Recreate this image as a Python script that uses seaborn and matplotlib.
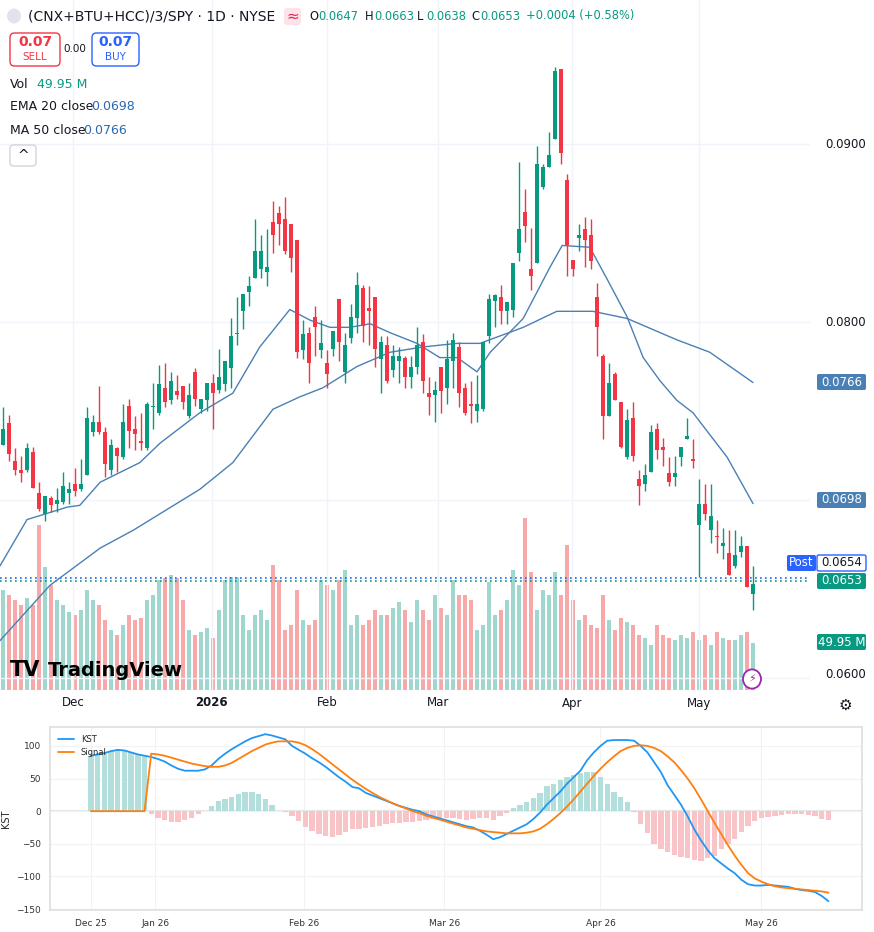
import numpy as np
import pandas as pd
import seaborn as sns
import matplotlib.pyplot as plt
from matplotlib.patches import FancyBboxPatch, Circle

# ---- candle data (daily) ----
opens = [.0731,.0743,.0722,.0717,.0717,.0727,.0704,.0692,.0701,.0698,
         .0699,.0704,.0709,.0706,.0714,.0738,.0744,.0738,.0717,.0729,
         .0724,.0753,.0740,.0733,.0729,.0752,.0749,.0763,.0756,.0761,
         .0764,.0747,.0772,.0751,.0756,.0766,.0762,.0765,.0774,.0793,
         .0806,.0817,.0825,.0830,.0828,.0856,.0861,.0858,.0855,.0846,
         .0784,.0794,.0803,.0784,.0777,.0785,.0813,.0772,.0791,.0802,
         .0819,.0808,.0814,.0779,.0787,.0773,.0778,.0780,.0769,.0775,
         .0789,.0760,.0759,.0775,.0763,.0778,.0786,.0763,.0754,.0750,
         .0751,.0792,.0812,.0814,.0806,.0807,.0839,.0862,.0830,.0833,
         .0876,.0887,.0903,.0942,.0880,.0835,.0847,.0852,.0849,.0814,
         .0781,.0747,.0771,.0755,.0724,.0746,.0712,.0709,.0716,.0740,
         .0730,.0715,.0713,.0724,.0734,.0723,.0686,.0698,.0683,.0680,
         .0674,.0670,.0663,.0671,.0674,.0647]
closes = [.0740,.0726,.0717,.0715,.0729,.0707,.0695,.0702,.0697,.0700,
          .0708,.0706,.0705,.0709,.0746,.0744,.0738,.0720,.0731,.0725,
          .0744,.0739,.0737,.0732,.0754,.0753,.0765,.0755,.0767,.0759,
          .0755,.0759,.0757,.0757,.0766,.0760,.0769,.0778,.0792,.0794,
          .0816,.0820,.0840,.0840,.0831,.0849,.0855,.0840,.0836,.0783,
          .0793,.0777,.0797,.0788,.0771,.0795,.0789,.0787,.0803,.0821,
          .0798,.0806,.0785,.0789,.0767,.0781,.0781,.0769,.0775,.0787,
          .0767,.0758,.0762,.0761,.0779,.0790,.0760,.0749,.0753,.0754,
          .0789,.0813,.0815,.0806,.0811,.0833,.0852,.0854,.0826,.0889,
          .0887,.0894,.0941,.0895,.0843,.0830,.0849,.0846,.0834,.0797,
          .0747,.0766,.0756,.0730,.0745,.0725,.0708,.0714,.0738,.0728,
          .0728,.0710,.0715,.0730,.0736,.0722,.0698,.0692,.0691,.0679,
          .0676,.0658,.0669,.0674,.0651,.0653]
highs = [.0752,.0748,.0729,.0725,.0732,.0730,.0710,.0702,.0702,.0707,
         .0716,.0710,.0718,.0723,.0752,.0748,.0764,.0741,.0734,.0730,
         .0754,.0757,.0747,.0749,.0755,.0766,.0776,.0777,.0772,.0770,
         .0764,.0766,.0774,.0757,.0766,.0771,.0785,.0778,.0802,.0814,
         .0816,.0826,.0858,.0849,.0852,.0868,.0865,.0870,.0855,.0846,
         .0801,.0797,.0809,.0801,.0784,.0795,.0813,.0794,.0810,.0828,
         .0821,.0820,.0814,.0792,.0792,.0787,.0786,.0781,.0781,.0797,
         .0793,.0769,.0767,.0775,.0790,.0794,.0789,.0766,.0767,.0770,
         .0789,.0816,.0816,.0821,.0811,.0833,.0890,.0875,.0853,.0899,
         .0889,.0907,.0943,.0942,.0883,.0835,.0855,.0859,.0858,.0822,
         .0782,.0777,.0772,.0755,.0751,.0755,.0717,.0720,.0742,.0743,
         .0735,.0724,.0725,.0730,.0746,.0734,.0712,.0709,.0709,.0689,
         .0684,.0683,.0683,.0680,.0674,.0663]
lows = [.0731,.0722,.0714,.0710,.0716,.0707,.0694,.0688,.0693,.0693,
        .0698,.0698,.0702,.0705,.0714,.0736,.0737,.0713,.0714,.0716,
        .0723,.0729,.0728,.0728,.0728,.0740,.0748,.0752,.0754,.0757,
        .0751,.0746,.0753,.0749,.0750,.0740,.0760,.0761,.0763,.0787,
        .0796,.0809,.0825,.0825,.0820,.0839,.0843,.0838,.0828,.0780,
        .0779,.0766,.0781,.0780,.0763,.0781,.0778,.0766,.0788,.0794,
        .0789,.0787,.0775,.0760,.0766,.0769,.0766,.0763,.0763,.0771,
        .0760,.0748,.0744,.0749,.0754,.0763,.0752,.0748,.0743,.0744,
        .0750,.0788,.0797,.0799,.0799,.0803,.0834,.0845,.0818,.0833,
        .0875,.0887,.0903,.0889,.0826,.0826,.0840,.0831,.0830,.0781,
        .0734,.0747,.0756,.0729,.0723,.0722,.0697,.0705,.0716,.0723,
        .0719,.0708,.0708,.0719,.0734,.0718,.0657,.0689,.0676,.0670,
        .0667,.0658,.0662,.0668,.0651,.0638]
volumes = [100,95,90,85,92,85,165,123,105,90,
           85,78,75,80,100,90,85,70,60,55,
           65,75,70,72,90,95,110,112,115,112,
           90,60,55,58,62,52,80,110,113,113,
           75,60,75,80,70,125,110,60,65,100,
           70,65,70,110,105,100,110,120,65,75,
           65,70,80,75,75,82,88,80,68,90,
           80,70,95,82,75,110,95,95,90,60,
           65,108,75,80,90,120,105,172,118,80,
           100,95,118,95,145,90,70,75,65,62,
           95,70,60,72,68,65,55,52,45,65,
           55,52,50,55,52,58,50,55,45,58,
           52,50,50,55,58,47]

ema_idx = [-0.5,4,10.7,12.8,16.2,22.8,26.2,32.8,38.3,42.8,47.8,51.2,54.5,57.8,61.2,64.5,69,
           72.8,75.7,79,81.2,86.7,91.2,93.2,97.8,100.7,104,106.7,109.5,112.3,115,120.7,125]
ema_val = [.0663,.0689,.0696,.0697,.0710,.0721,.0732,.0749,.0760,.0786,.0807,.0801,.0797,.0797,
           .0799,.0794,.0788,.0780,.0780,.0772,.0783,.0802,.0831,.0843,.0842,.0824,.0803,.0780,
           .0767,.0756,.0749,.0724,.0698]
ma_idx = [-0.5,7.8,16.2,21.7,32.8,38.3,45,49.5,53.3,59,64.5,70,75.7,79.5,86.7,92.3,98.3,104,
          112.3,117.8,125]
ma_val = [.0621,.0652,.0673,.0683,.0706,.0721,.0751,.0758,.0763,.0775,.0783,.0786,.0788,.0788,
          .0797,.0806,.0806,.0802,.0790,.0783,.0766]

month_labels = ["Dec", "2026", "Feb", "Mar", "Apr", "May"]
month_pos = [11.7, 34.8, 54, 72.5, 94.8, 116]

# ---- KST panel data ----
kst = [85,87,89,92,94,93,90,87,85,83,
       80,76,70,65,62,62,62,64,70,80,
       88,95,101,107,112,115,118,116,113,110,
       100,94,88,81,75,68,60,52,45,37,
       35,28,24,20,16,12,8,5,2,0,
       -5,-8,-11,-14,-17,-20,-23,-25,-30,-36,
       -43,-40,-35,-30,-25,-20,-12,-2,10,20,
       30,42,52,62,78,90,100,108,109,109,
       109,108,100,90,75,60,40,25,10,-8,
       -28,-45,-60,-72,-80,-88,-95,-105,-112,-114,
       -114,-113,-114,-115,-116,-119,-121,-122,-124,-130,-138]
signal = [0,0,0,0,0,0,0,0,0,88,
          87,85,82,79,76,73,71,69,68,68,
          70,74,80,86,92,97,102,105,107,107,
          107,105,101,95,88,80,72,64,56,48,
          41,34,28,22,17,12,8,4,0,-3,
          -7,-10,-13,-16,-19,-22,-25,-27,-29,-31,
          -32,-33,-34,-34,-34,-33,-31,-27,-20,-12,
          -3,7,18,30,42,54,65,75,84,92,
          97,100,101,100,97,92,84,75,63,50,
          35,18,0,-18,-35,-52,-68,-82,-95,-103,
          -108,-112,-115,-117,-118,-119,-120,-121,-122,-123,-125]
hist = [85,87,89,92,94,93,90,87,85,
        -5,-10,-14,-17,-17,-14,-10,-5,
        1,
        8,15,18,22,26,29,30,27,18,10,
        0,-1,
        -8,-15,-24,-30,-35,-38,-40,-36,-32,-28,-27,-26,
        -25,-22,-20,-18,-18,-17,-16,-15,-13,-12,
        -12,-11,-10,-12,-13,-12,-10,-11,-14,-8,-3,
        5,10,14,20,28,38,42,48,53,55,58,60,60,52,42,30,22,14,
        -2,-20,-33,-50,-58,-63,-67,-70,-72,-75,-77,-72,-68,-58,-50,-42,-32,-22,-15,-10,
        -9,-8,-6,-5,-5,-5,-6,-7,-12,-13]
kst_ticks = [0, 9.6, 31.8, 52.7, 76, 100]
kst_tick_labels = ["Dec 25", "Jan 26", "Feb 26", "Mar 26", "Apr 26", "May 26"]

sns.set_theme(style="white")
plt.rcParams['font.family'] = ['DejaVu Sans']

W, H = 874, 932
fig = plt.figure(figsize=(W / 100, H / 100), dpi=100)

def fx(x):
    return x / W

def fy(y):
    return 1 - y / H

GREEN, RED = "#089981", "#f23645"
MACOL = "#4a80b4"
TXT = "#131722"

# ---- top: candlestick panel ----
ax_pos = [0, fy(690), fx(810), 690 / H]
axv = fig.add_axes(ax_pos)
ax = fig.add_axes(ax_pos)
ax.patch.set_alpha(0)
n = len(opens)
idx = np.arange(n)
up = np.array(closes) >= np.array(opens)
vcol = np.where(up, "#9fd6cd", "#f7a9a9")
axv.bar(idx, volumes, width=0.75, color=vcol, linewidth=0)
axv.set_ylim(0, 690)
xl = (-0.5, -0.5 + 810 / 6)
axv.set_xlim(xl)
axv.axis("off")

def ypx(y):
    return 0.09 - (y - 144) / 17800

ax.set_ylim(ypx(690), ypx(0))
ax.set_xlim(xl)
for p in [0.06, 0.07, 0.08, 0.09]:
    ax.axhline(p, color="#f0f3fa", lw=1, zorder=0)
for m in month_pos:
    ax.axvline(m, color="#f0f3fa", lw=1, zorder=0)
ccol = np.where(up, GREEN, RED)
ax.vlines(idx, lows, highs, colors=ccol, lw=1, zorder=3)
body_lo = np.minimum(opens, closes)
body_h = np.maximum(np.abs(np.array(closes) - np.array(opens)), 0.00004)
ax.bar(idx, body_h, bottom=body_lo, width=0.75, color=ccol, linewidth=0, zorder=4)
sns.lineplot(x=ema_idx, y=ema_val, ax=ax, color=MACOL, lw=1, zorder=2)
sns.lineplot(x=ma_idx, y=ma_val, ax=ax, color=MACOL, lw=1, zorder=2)
ax.axhline(ypx(578), color="#2962ff", lw=1.2, ls=(0, (1, 2)), zorder=1)
ax.axhline(ypx(581), color=GREEN, lw=1.2, ls=(0, (1, 2)), zorder=1)
ax.axis("off")

# header
fig.patches.append(Circle((fx(14), fy(16)), 7 / W, transform=fig.transFigure,
                          facecolor="#e0e3eb", edgecolor="none"))
fig.text(fx(28), fy(16), "(CNX+BTU+HCC)/3/SPY · 1D · NYSE", fontsize=10, color=TXT, va="center")
fig.patches.append(FancyBboxPatch((fx(284), fy(25)), 17 / W, 17 / H, transform=fig.transFigure,
                                  boxstyle="round,pad=0,rounding_size=0.004", facecolor="#fde3e6", edgecolor="none"))
fig.text(fx(292.5), fy(16), "≈", fontsize=11, color="#e91e63", va="center", ha="center")
for lab, xl0, val, xv in [("O", 309, "0.0647", 318), ("H", 365, "0.0663", 374),
                          ("L", 417, "0.0638", 426), ("C", 471, "0.0653", 480)]:
    fig.text(fx(xl0), fy(16), lab, fontsize=8.3, color=TXT, va="center")
    fig.text(fx(xv), fy(16), val, fontsize=8.3, color=GREEN, va="center")
fig.text(fx(526), fy(16), "+0.0004 (+0.58%)", fontsize=8.3, color=GREEN, va="center")

# sell / buy
fig.patches.append(FancyBboxPatch((fx(10), fy(66)), 50 / W, 33 / H, transform=fig.transFigure,
                                  boxstyle="round,pad=0,rounding_size=0.005", facecolor="white", edgecolor=RED, lw=1))
fig.text(fx(35), fy(42), "0.07", fontsize=10, color=RED, ha="center", va="center", weight="bold")
fig.text(fx(35), fy(57), "SELL", fontsize=7.5, color=RED, ha="center", va="center")
fig.text(fx(75), fy(49), "0.00", fontsize=7.5, color=TXT, ha="center", va="center")
fig.patches.append(FancyBboxPatch((fx(92), fy(66)), 47 / W, 33 / H, transform=fig.transFigure,
                                  boxstyle="round,pad=0,rounding_size=0.005", facecolor="white", edgecolor="#2962ff", lw=1))
fig.text(fx(115), fy(42), "0.07", fontsize=10, color="#2962ff", ha="center", va="center", weight="bold")
fig.text(fx(115), fy(57), "BUY", fontsize=7.5, color="#2962ff", ha="center", va="center")

# legend lines
fig.text(fx(10), fy(84), "Vol", fontsize=9, color=TXT, va="center")
fig.text(fx(37), fy(84), "49.95 M", fontsize=9, color=GREEN, va="center")
fig.text(fx(10), fy(106), "EMA 20 close", fontsize=9, color=TXT, va="center")
fig.text(fx(91), fy(106), "0.0698", fontsize=9, color="#2a6ab0", va="center")
fig.text(fx(10), fy(130), "MA 50 close", fontsize=9, color=TXT, va="center")
fig.text(fx(83), fy(130), "0.0766", fontsize=9, color="#2a6ab0", va="center")
fig.patches.append(FancyBboxPatch((fx(10), fy(166)), 26 / W, 21 / H, transform=fig.transFigure,
                                  boxstyle="round,pad=0,rounding_size=0.004", facecolor="white", edgecolor="#d1d4dc", lw=1))
fig.text(fx(23), fy(156), "^", fontsize=10, color=TXT, ha="center", va="center")

# price axis
for p, y in [("0.0900", 144), ("0.0800", 322), ("0.0600", 674)]:
    fig.text(fx(825), fy(y), p, fontsize=8.5, color=TXT, va="center")

def tag(x0, y, w, text, fc, tc="white", ec="none"):
    fig.patches.append(FancyBboxPatch((fx(x0), fy(y + 8)), w / W, 16 / H, transform=fig.transFigure,
                                      boxstyle="round,pad=0,rounding_size=0.002", facecolor=fc, edgecolor=ec, lw=1))
    fig.text(fx(x0 + w / 2), fy(y), text, fontsize=8.5, color=tc, ha="center", va="center")

tag(817, 382, 49, "0.0766", "#4a80b4")
tag(817, 500, 49, "0.0698", "#4a80b4")
tag(787, 563, 29, "Post", "#2962ff")
tag(817, 563, 49, "0.0654", "white", tc=TXT, ec="#2962ff")
tag(817, 581, 49, "0.0653", GREEN)
tag(817, 642, 49, "49.95 M", GREEN)

# time axis
for lab, m in zip(month_labels, month_pos):
    xp = 3 + 6 * m
    fig.text(fx(xp), fy(703), lab, fontsize=8.5, color=TXT, ha="center", va="center",
             weight="bold" if lab == "2026" else "normal")
fig.text(fx(845), fy(705), "⚙", fontsize=11, color=TXT, ha="center", va="center")
fig.patches.append(Circle((fx(752), fy(679)), 9 / W, transform=fig.transFigure,
                          facecolor="white", edgecolor="#9c27b0", lw=1.3))
fig.text(fx(752), fy(679), "⚡", fontsize=8, color="#9c27b0", ha="center", va="center")
fig.text(fx(10), fy(670), "TV", fontsize=15, color="black", weight="bold", va="center")
fig.text(fx(48), fy(670), "TradingView", fontsize=14, color="black", weight="bold", va="center")

# ---- bottom: KST panel ----
bx = fig.add_axes([fx(50), fy(910), (862 - 50) / W, (910 - 727) / H])
ki = np.arange(len(kst))
hcol = np.where(np.array(hist) >= 0, "#b2dfdb", "#f8c4c8")
bx.bar(ki, hist, width=0.8, color=hcol, linewidth=0, zorder=1)
df = pd.DataFrame({"i": ki, "KST": kst, "Signal": signal})
sns.lineplot(data=df, x="i", y="KST", ax=bx, color="#2196f3", lw=1.3, label="KST", zorder=3)
sns.lineplot(data=df, x="i", y="Signal", ax=bx, color="#ff7f0e", lw=1.3, label="Signal", zorder=3)
bx.axhline(0, color="#e6e6e6", lw=1.5, zorder=0)
bx.set_xlim(-6.1, 115)
bx.set_ylim(-151.5, 129)
bx.set_yticks([-150, -100, -50, 0, 50, 100])
bx.set_xticks(kst_ticks)
bx.set_xticklabels(kst_tick_labels)
bx.tick_params(labelsize=6.5, colors="#333333", length=3)
bx.set_xlabel("")
bx.set_ylabel("KST", fontsize=7)
bx.grid(True, color="#f2f2f2", lw=0.8)
for s in bx.spines.values():
    s.set_color("#e0e0e0")
bx.legend(loc="upper left", fontsize=6, frameon=False, handlelength=2)

fig.savefig("out.png", dpi=100)
